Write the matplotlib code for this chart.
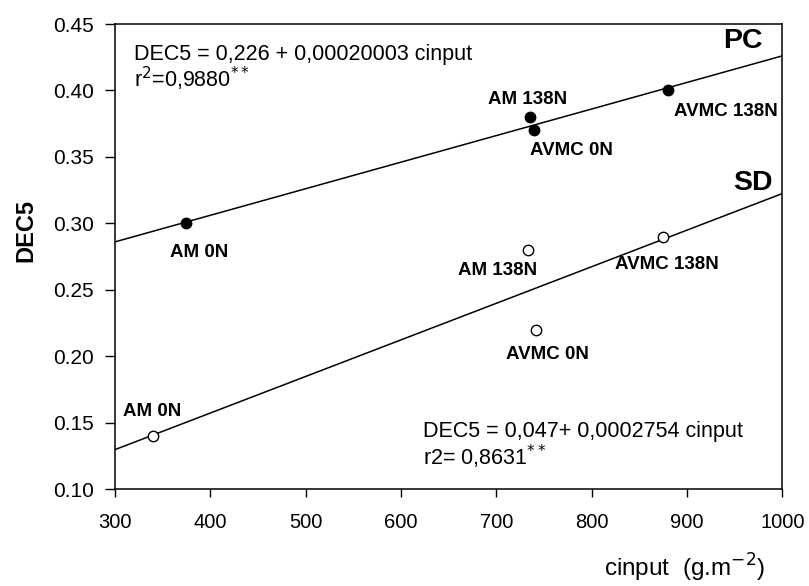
import numpy as np
import matplotlib
matplotlib.use("Agg")
import matplotlib.pyplot as plt

plt.rcParams["font.family"] = ["Liberation Sans", "DejaVu Sans"]

# PC (filled) and SD (open) points
pc_labels = ["AM 0N", "AM 138N", "AVMC 0N", "AVMC 138N"]
pc_x = [375, 735, 740, 880]
pc_y = [0.30, 0.38, 0.37, 0.40]

sd_labels = ["AM 0N", "AM 138N", "AVMC 0N", "AVMC 138N"]
sd_x = [340, 733, 742, 875]
sd_y = [0.14, 0.28, 0.22, 0.29]

# regression coefficients
pc_a, pc_b = 0.226, 0.00020003
sd_a, sd_b = 0.047, 0.0002754

x_ticks = [300, 400, 500, 600, 700, 800, 900, 1000]
y_ticks = [0.10, 0.15, 0.20, 0.25, 0.30, 0.35, 0.40, 0.45]

# label offsets in pixels (dx, dy), y up
pc_off = [(13, -29), (-2, 18), (37, -20), (58, -21)]
sd_off = [(-1, 24), (-30, -21), (11, -25), (4, -28)]

fig = plt.figure(figsize=(8.09, 5.86), dpi=100)
ax = fig.add_axes([0.142, 0.1655, 0.825, 0.7935])

xl = np.array([300, 1000])
ax.plot(xl, pc_a + pc_b * xl, color="black", lw=1.1, zorder=2)
ax.plot(xl, sd_a + sd_b * xl, color="black", lw=1.1, zorder=2)

ax.plot(pc_x, pc_y, "o", ms=7.5, mfc="black", mec="black", zorder=3)
ax.plot(sd_x, sd_y, "o", ms=7.5, mfc="white", mec="black", mew=1.0, zorder=3)

for lab, x, y, (dx, dy) in zip(pc_labels, pc_x, pc_y, pc_off):
    ax.annotate(lab, (x, y), xytext=(dx, dy), textcoords="offset pixels",
                ha="center", va="center", fontsize=13.5, fontweight="bold")
for lab, x, y, (dx, dy) in zip(sd_labels, sd_x, sd_y, sd_off):
    ax.annotate(lab, (x, y), xytext=(dx, dy), textcoords="offset pixels",
                ha="center", va="center", fontsize=13.5, fontweight="bold")

ax.text(959, 0.437, "PC", ha="center", va="center", fontsize=20.5, fontweight="bold")
ax.text(969, 0.330, "SD", ha="center", va="center", fontsize=20.5, fontweight="bold")

ax.text(320, 0.427, "DEC5 = 0,226 + 0,00020003 cinput", ha="left", va="center", fontsize=15.5)
ax.text(320, 0.409, r"r$^{2}$=0,9880$^{**}$", ha="left", va="center", fontsize=15.5)
ax.text(623, 0.143, "DEC5 = 0,047+ 0,0002754 cinput", ha="left", va="center", fontsize=15.5)
ax.text(623, 0.124, r"r2= 0,8631$^{**}$", ha="left", va="center", fontsize=15.5)

ax.set_xlim(300, 1000)
ax.set_ylim(0.10, 0.45)
ax.set_xticks(x_ticks)
ax.set_yticks(y_ticks)
ax.set_yticklabels([f"{v:.2f}" for v in y_ticks])
ax.tick_params(axis="both", direction="out", width=1, colors="black")
ax.tick_params(axis="y", length=7, pad=8, labelsize=15)
ax.tick_params(axis="x", length=6, pad=11, labelsize=14.5)
for s in ax.spines.values():
    s.set_linewidth(1.1)

ax.set_ylabel("DEC5", fontsize=17, fontweight="bold", va="center")
ax.yaxis.set_label_coords(-0.133, 0.557)
fig.text(0.946, 0.003, r"cinput  (g.m$^{-2}$)", ha="right", va="bottom", fontsize=17.5)

fig.savefig("out.png", dpi=100)
